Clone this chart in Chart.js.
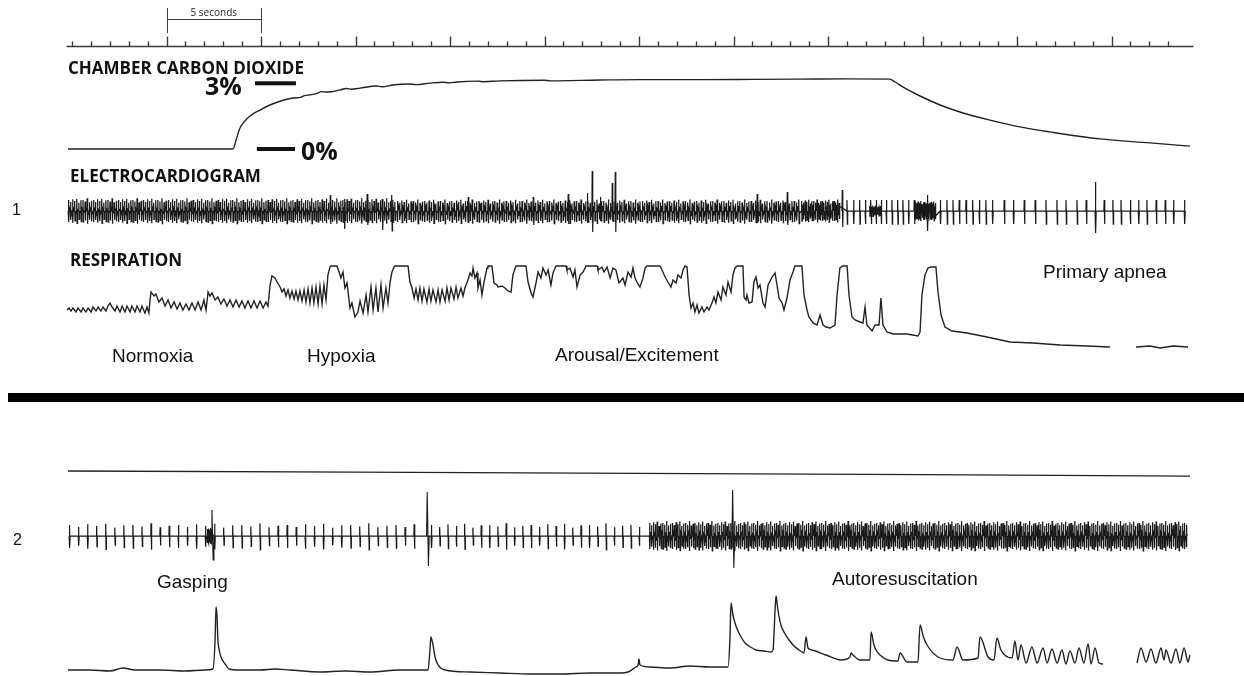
<!DOCTYPE html>
<html>
<head>
<meta charset="utf-8">
<script src="https://cdn.jsdelivr.net/npm/chart.js"></script>
<style>
  html, body { margin: 0; padding: 0; background: #fff; }
  #wrap { width: 1244px; height: 676px; }
</style>
</head>
<body>
<div id="wrap"><canvas id="trace" width="1244" height="676"></canvas></div>
<script>
// Time is in seconds (1 s per ruler tick), each trace in its own units.
// CO2 in %, ECG and respiration in arbitrary units above their baselines.

const rulerSeconds = 58;
const scaleBar = [5, 10];

// panel 1: chamber CO2 [s, %]
const co2Trace = [
  [-0.21, 0], [8.52, 0], [8.68, 0.41], [8.89, 0.96], [9.15, 1.28], [9.42, 1.51], [9.95, 1.78],
  [10.74, 2.10], [11.69, 2.33], [12.1, 2.36], [12.3, 2.44], [12.59, 2.47], [13.0, 2.55], [13.2, 2.62],
  [13.49, 2.60], [14.2, 2.70], [14.5, 2.76], [14.8, 2.73], [15.24, 2.78], [16.1, 2.88], [16.4, 2.84],
  [16.98, 2.92], [17.8, 2.97], [18.2, 2.94], [18.94, 3.01], [19.6, 3.05], [20.0, 3.02], [20.37, 3.06],
  [21.5, 3.10], [21.8, 3.07], [22.65, 3.11], [25.0, 3.14], [25.3, 3.11], [27.94, 3.15], [30.0, 3.17],
  [33.23, 3.17], [36.0, 3.18], [38.52, 3.19], [41.0, 3.20], [43.28, 3.19], [43.54, 3.06], [44.07, 2.78],
  [44.87, 2.42], [45.93, 2.01], [46.98, 1.69], [48.57, 1.32], [50.16, 1.01], [51.75, 0.78], [54.39, 0.46],
  [57.04, 0.28], [59.15, 0.13]
];

// panel 2: chamber CO2 [s, %]
const co2TraceB = [[-0.21, 0.32], [15, 0.27], [30, 0.21], [45, 0.15], [59.15, 0.09]];

// ECG runs where beats are too dense to read one by one:
// [start s, end s, beat interval s, up, down, baseline noise]
const ecg1Runs = [
  [-0.2, 17.2, 0.11, 11, 11, 3],
  [17.2, 38.6, 0.12, 10, 11, 5],
  [38.6, 40.7, 0.09, 10, 10, 6],
  [42.2, 42.9, 0.08, 5, 5, 3],
  [44.62, 45.8, 0.07, 9, 9, 6]
];
const ecg1BeatTimes = [
  40.99, 41.34, 41.66, 41.96, 42.26, 42.54, 42.80, 43.07, 43.37, 43.67, 43.95, 44.25, 44.55,
  45.93, 46.28, 46.60, 46.93, 47.29, 47.64, 47.99, 48.34, 48.69,
  49.31, 49.80, 50.37, 50.95, 51.52, 52.10, 52.58, 53.16, 53.65, 54.60, 55.06, 55.49, 55.98,
  56.42, 56.86, 57.35, 57.83, 58.27, 58.85
];
const ecg1BeatAmp = [11, 13];
// larger single deflections [s, up, down]
const ecg1Big = [
  [13.65, 16, 13], [14.4, 12, 18], [15.6, 17, 14], [16.4, 12, 19], [16.9, 16, 20],
  [20.95, 14, 12], [24.39, 14, 14], [26.24, 17, 13], [27.25, 18, 12], [27.51, 40, 21],
  [27.94, 14, 10], [28.57, 28, 10], [28.73, 39, 21], [36.24, 17, 12], [37.83, 19, 14],
  [40.74, 21, 16], [45.24, 16, 20], [54.13, 29, 22]
];

const ecg2Runs = [
  [-0.15, 18.7, 0.48, 11, 12, 0],
  [19.0, 30.5, 0.44, 11, 12, 0],
  [30.55, 59.1, 0.1, 13, 13, 4],
  [7.15, 7.45, 0.04, 7, 7, 2]
];
const ecg2Big = [[7.37, 26, 24], [18.76, 44, 30], [34.92, 46, 32]];

// beat-to-beat amplitude and noise variation seen in the dense parts
const ampVar = [1, 0.82, 1.06, 0.9, 1.12, 0.76, 0.97, 1.0, 0.86, 1.15, 0.8, 0.94];
const ecgNoise = [1, -0.6, 0.8, -1, 0.5, -0.8, 1, -0.4, 0.7, -0.9];

// panel 1 respiration [s, a.u.]; null = pen lifted
const resp1Trace = [
  [-0.26,40],[-0.16,42],[-0.05,39],[0.05,42],[0.21,38],[0.32,42],[0.48,38],[0.58,42],[0.74,38],[0.85,42],
  [1.01,38],[1.11,43],[1.27,39],[1.38,43],[1.53,39],[1.64,43],[1.80,39],[1.90,44],[2.01,47],[2.12,43],
  [2.28,39],[2.38,44],[2.54,38],[2.65,44],[2.80,38],[2.91,44],[3.07,38],[3.17,44],[3.33,38],[3.44,44],
  [3.60,38],[3.70,44],[3.86,37],[3.97,43],[4.07,37],[4.13,50],[4.18,58],[4.23,58],[4.34,54],[4.44,56],
  [4.60,48],[4.76,52],[4.92,44],[5.08,50],[5.24,42],[5.40,48],[5.56,41],[5.71,47],[5.87,40],[6.03,46],
  [6.19,40],[6.35,47],[6.51,40],[6.67,48],[6.83,40],[6.98,50],[7.09,40],[7.20,58],[7.30,54],[7.41,57],
  [7.57,50],[7.72,53],[7.88,46],[8.04,51],[8.20,44],[8.36,50],[8.52,43],[8.68,50],[8.84,43],[8.99,49],
  [9.15,42],[9.31,49],[9.47,42],[9.63,49],[9.79,42],[9.95,49],[10.11,42],[10.26,48],[10.37,44],[10.48,65],
  [10.58,74],[10.74,72],[10.85,68],[11.01,63],[11.11,58],[11.22,61],[11.32,54],[11.43,60],[11.53,52],[11.64,59],
  [11.75,51],[11.85,59],[11.96,50],[12.06,59],[12.17,49],[12.28,60],[12.38,48],[12.49,61],[12.59,47],[12.70,62],
  [12.80,47],[12.91,63],[13.02,46],[13.12,64],[13.23,46],[13.33,65],[13.44,50],[13.54,75],[13.65,83],[13.70,84],
  [14.02,84],[14.13,78],[14.23,72],[14.34,78],[14.44,62],[14.55,67],[14.71,42],[14.81,47],[14.97,33],[15.13,38],
  [15.24,49],[15.40,37],[15.56,55],[15.66,38],[15.82,63],[15.93,40],[16.08,62],[16.19,38],[16.35,65],[16.46,42],
  [16.61,62],[16.72,47],[16.83,68],[16.93,78],[17.04,83],[17.09,84],[17.78,84],[17.88,68],[17.99,62],[18.10,52],
  [18.20,61],[18.31,50],[18.41,62],[18.52,49],[18.62,61],[18.78,48],[18.89,61],[18.99,49],[19.10,60],[19.26,48],
  [19.37,60],[19.47,48],[19.58,60],[19.74,49],[19.84,62],[19.95,50],[20.05,62],[20.21,51],[20.32,63],[20.42,52],
  [20.58,62],[20.69,54],[20.79,62],[20.95,70],[21.06,77],[21.16,74],[21.22,82],[21.32,72],[21.43,77],[21.48,62],
  [21.59,70],[21.69,55],[21.80,68],[21.96,82],[22.01,84],[22.22,84],[22.33,67],[22.49,65],[22.54,63],[22.75,64],
  [22.91,62],[23.07,59],[23.23,58],[23.33,75],[23.49,84],[24.02,84],[24.13,68],[24.29,57],[24.39,53],[24.55,67],
  [24.66,78],[24.81,72],[24.92,82],[25.08,75],[25.19,80],[25.34,65],[25.45,77],[25.61,84],[26.14,84],[26.19,80],
  [26.35,82],[26.51,73],[26.61,80],[26.72,63],[26.88,75],[27.04,78],[27.20,84],[27.78,84],[27.83,80],[28.04,83],
  [28.15,78],[28.31,83],[28.47,72],[28.62,82],[28.78,80],[28.94,67],[29.15,72],[29.26,65],[29.42,78],[29.58,73],
  [29.68,82],[29.79,72],[29.89,68],[30.05,63],[30.21,72],[30.32,82],[30.42,84],[31.11,84],[31.22,80],[31.38,73],
  [31.53,68],[31.69,63],[31.80,70],[31.96,67],[32.06,75],[32.22,72],[32.33,80],[32.43,84],[32.54,83],[32.65,55],
  [32.75,42],[32.86,47],[32.96,38],[33.07,45],[33.17,37],[33.33,43],[33.44,38],[33.60,43],[33.70,40],[33.86,47],
  [33.97,53],[34.07,47],[34.18,58],[34.34,50],[34.44,63],[34.60,55],[34.71,68],[34.87,58],[34.97,75],[35.08,82],
  [35.19,84],[35.50,84],[35.56,53],[35.66,50],[35.71,55],[35.82,47],[35.98,48],[36.08,68],[36.19,73],[36.30,62],
  [36.40,65],[36.56,47],[36.67,43],[36.83,65],[37.04,73],[37.20,77],[37.30,65],[37.41,52],[37.57,47],[37.67,40],
  [37.83,52],[37.99,70],[38.15,78],[38.25,84],[38.62,84],[38.73,55],[38.89,40],[38.99,33],[39.21,27],[39.42,25],
  [39.58,35],[39.74,25],[39.89,23],[40.11,22],[40.37,25],[40.48,55],[40.63,82],[40.79,84],[41.01,84],[41.11,55],
  [41.27,33],[41.43,30],[41.69,28],[41.85,27],[41.96,43],[42.06,25],[42.33,19],[42.49,25],[42.70,25],[42.80,52],
  [42.91,25],[43.12,18],[43.44,16],[44.18,16],[44.76,14],[44.87,18],[44.97,55],[45.13,75],[45.29,82],[45.45,83],
  [45.71,83],[45.82,58],[45.98,35],[46.19,23],[46.56,19],[47.35,17],[48.41,13],[49.63,8],[50.85,7],[52.28,5],
  [53.70,4],[54.92,3],[55.6,null],[56.30,3],[57.04,4],[57.57,2],[58.25,4],[59.05,3]
];

// panel 2 respiration [s, a.u.]
const resp2Trace = [
  [-0.21,5],[0.95,5],[2.01,4],[2.70,7],[3.33,5],[4.66,5],[5.98,4],[7.04,5],[7.46,6],[7.57,35],
  [7.62,68],[7.67,60],[7.72,35],[7.80,24],[7.88,18],[8.10,11],[8.31,6],[8.89,5],[9.95,5],[10.74,6],
  [11.53,5],[13.12,3],[14.44,4],[15.77,3],[17.35,5],[18.84,5],[18.94,25],[18.99,38],[19.10,30],[19.21,18],
  [19.37,10],[19.74,5],[21.06,3],[22.65,2],[24.23,1],[25.82,1],[27.41,2],[28.99,2],[29.42,3],[29.84,8],
  [29.95,10],[30.00,16],[30.05,10],[30.58,8],[31.64,7],[32.70,9],[33.76,8],[34.71,8],[34.81,35],[34.87,72],
  [34.97,60],[35.08,52],[35.19,46],[35.40,38],[35.61,32],[35.90,28],[36.19,25],[36.60,24],[36.98,23],[37.09,25],
  [37.20,65],[37.25,79],[37.35,65],[37.51,50],[37.70,42],[37.94,35],[38.20,29],[38.47,25],[38.73,22],[38.84,38],
  [38.94,27],[39.15,25],[39.89,20],[40.69,15],[41.16,18],[41.22,22],[41.32,20],[41.69,15],[42.22,15],[42.28,43],
  [42.43,30],[42.54,25],[42.75,20],[43.17,15],[43.70,14],[43.81,22],[44.18,13],[44.76,13],[44.87,50],[45.05,38],
  [45.24,30],[45.82,18],[46.61,15],[46.83,28],[47.14,15],[47.94,17],[48.04,38],[48.47,18],[48.78,15],[48.94,37],
  [49.15,25],[49.74,17],[49.89,34],[50.05,15],[50.21,30],[50.48,12],[50.79,28],[51.06,12],[51.38,27],[51.59,12],
  [51.85,26],[52.12,12],[52.38,25],[52.59,11],[52.80,24],[53.07,12],[53.28,27],[53.54,12],[53.76,31],[53.92,11],
  [54.13,27],[54.34,12],[54.55,11],[55.4,null],[56.35,12],[56.56,27],[56.83,13],[57.09,26],[57.35,12],[57.62,27],
  [57.78,15],[57.88,25],[58.15,12],[58.41,26],[58.62,12],[58.84,27],[59.05,13],[59.15,20]
];

// ---------- layout ----------
const W = 1244, H = 676;
const PX_PER_S = 18.9, T0_PX = 72;
const INK = '#222';

function band(zeroPx, pxPerUnit) {
  return { type: 'linear', display: false, min: (zeroPx - H) / pxPerUnit, max: zeroPx / pxPerUnit };
}

function beatPoints(out, t, up, down, w) {
  out.push({ x: t, y: 0 }, { x: t + w * 0.25, y: up }, { x: t + w * 0.7, y: -down }, { x: t + w, y: 0 });
}

function ecgSeries(runs, beatTimes, beatAmp) {
  const pts = [];
  runs.forEach(([t0, t1, rr, up, down, noise]) => {
    const n = Math.floor((t1 - t0) / rr);
    for (let i = 0; i < n; i++) {
      const t = t0 + i * rr;
      const k = ampVar[i % ampVar.length];
      beatPoints(pts, t, up * k, down * k, Math.min(0.05, rr * 0.4));
      if (noise) pts.push({ x: t + rr * 0.6, y: noise * ecgNoise[i % ecgNoise.length] });
    }
  });
  (beatTimes || []).forEach(t => beatPoints(pts, t, beatAmp[0], beatAmp[1], 0.05));
  pts.sort((a, b) => a.x - b.x);
  return pts;
}

function bigSpikes(list, w) {
  const pts = [];
  list.forEach(([t, up, down]) => {
    beatPoints(pts, t, up, down, w);
    pts.push({ x: t + w, y: null });
  });
  return pts;
}

const toXY = pairs => pairs.map(([x, y]) => ({ x, y }));

function trace(data, axis, width, smooth, color) {
  return {
    data, yAxisID: axis, borderColor: color || INK, borderWidth: width, pointRadius: 0,
    tension: smooth ? 0.4 : 0, cubicInterpolationMode: smooth ? 'monotone' : 'default',
    spanGaps: false, fill: false
  };
}

const texts = [
  { t: 'CHAMBER CARBON DIOXIDE', x: 68, y: 74, f: 'bold 17px "Open Sans"', w: 250 },
  { t: '3%', x: 205, y: 95, f: 'bold 25px "Open Sans"', w: 44 },
  { t: '0%', x: 301, y: 160, f: 'bold 25px "Open Sans"', w: 45 },
  { t: 'ELECTROCARDIOGRAM', x: 70, y: 182, f: 'bold 17px "Open Sans"', w: 206 },
  { t: '1', x: 12, y: 215, f: '16px "Liberation Sans"' },
  { t: 'RESPIRATION', x: 70, y: 266, f: 'bold 17px "Open Sans"', w: 117 },
  { t: 'Normoxia', x: 112, y: 362, f: '19px "Liberation Sans"', w: 84 },
  { t: 'Hypoxia', x: 307, y: 362, f: '19px "Liberation Sans"', w: 71 },
  { t: 'Arousal/Excitement', x: 555, y: 361, f: '19px "Liberation Sans"', w: 171 },
  { t: 'Primary apnea', x: 1043, y: 278, f: '19px "Liberation Sans"', w: 131 },
  { t: '2', x: 13, y: 545, f: '16px "Liberation Sans"' },
  { t: 'Gasping', x: 157, y: 588, f: '19px "Liberation Sans"', w: 74 },
  { t: 'Autoresuscitation', x: 832, y: 585, f: '19px "Liberation Sans"', w: 169 }
];

const decorations = {
  id: 'decorations',
  afterDraw(chart) {
    const { ctx } = chart;
    const sx = chart.scales.x;
    const px = s => Math.round(sx.getPixelForValue(s)) + 0.5;
    const co2 = chart.scales.yCo2;
    ctx.save();

    // time ruler
    const rulerY = 46.5;
    ctx.strokeStyle = '#3a3a3a';
    ctx.lineWidth = 1.4;
    ctx.beginPath();
    ctx.moveTo(px(-0.3), rulerY);
    ctx.lineTo(px(59.3), rulerY);
    for (let s = 0; s <= rulerSeconds; s++) {
      const h = (s > 0 && s % 5 === 0) ? 10 : 5;
      ctx.moveTo(px(s), rulerY);
      ctx.lineTo(px(s), rulerY - h);
    }
    ctx.stroke();

    // 5 second scale bar
    ctx.lineWidth = 1;
    ctx.beginPath();
    ctx.moveTo(px(scaleBar[0]), 19.5); ctx.lineTo(px(scaleBar[1]), 19.5);
    ctx.moveTo(px(scaleBar[0]), 8); ctx.lineTo(px(scaleBar[0]), 33);
    ctx.moveTo(px(scaleBar[1]), 8); ctx.lineTo(px(scaleBar[1]), 33);
    ctx.stroke();
    ctx.fillStyle = '#222';
    ctx.font = '10px "Open Sans"';
    ctx.textAlign = 'center';
    ctx.fillText('5 seconds', sx.getPixelForValue((scaleBar[0] + scaleBar[1]) / 2), 16, 56);
    ctx.textAlign = 'left';

    // CO2 calibration marks at 3% and 0%
    ctx.fillStyle = '#111';
    [[3, 9.68, 11.85], [0, 9.78, 11.8]].forEach(([v, a, b]) => {
      const y = co2.getPixelForValue(v);
      ctx.fillRect(sx.getPixelForValue(a), y - 2, sx.getPixelForValue(b) - sx.getPixelForValue(a), 4);
    });

    // separator between the two recordings
    ctx.fillStyle = '#000';
    ctx.fillRect(8, 393, W - 8, 9);

    // labels
    ctx.fillStyle = '#111';
    ctx.textBaseline = 'alphabetic';
    texts.forEach(l => {
      ctx.font = l.f;
      if (l.w) ctx.fillText(l.t, l.x, l.y, l.w); else ctx.fillText(l.t, l.x, l.y);
    });
    ctx.restore();
  }
};

new Chart(document.getElementById('trace'), {
  type: 'line',
  data: {
    datasets: [
      trace(toXY(co2Trace), 'yCo2', 1.4, true),
      trace(toXY(co2TraceB), 'yCo2b', 1.3, false),
      trace(ecgSeries(ecg1Runs, ecg1BeatTimes, ecg1BeatAmp), 'yEcg1', 1.25, false, '#1a1a1a'),
      trace(bigSpikes(ecg1Big, 0.06), 'yEcg1', 1.2, false, '#1a1a1a'),
      trace(toXY(resp1Trace), 'yResp1', 1.4, false),
      trace(ecgSeries(ecg2Runs, null, null), 'yEcg2', 1.25, false, '#1a1a1a'),
      trace(bigSpikes(ecg2Big, 0.14), 'yEcg2', 1.1, false, '#1a1a1a'),
      trace(toXY(resp2Trace), 'yResp2', 1.4, true)
    ]
  },
  options: {
    responsive: false,
    animation: false,
    events: [],
    layout: { padding: 0 },
    plugins: { legend: { display: false }, tooltip: { enabled: false } },
    scales: {
      x: { type: 'linear', display: false, min: -T0_PX / PX_PER_S, max: (W - T0_PX) / PX_PER_S },
      yCo2: band(149, 21.9),
      yEcg1: band(211, 1),
      yResp1: band(350, 1),
      yCo2b: band(478, 21.9),
      yEcg2: band(536, 1),
      yResp2: band(675, 1)
    }
  },
  plugins: [decorations]
});
</script>
</body>
</html>
